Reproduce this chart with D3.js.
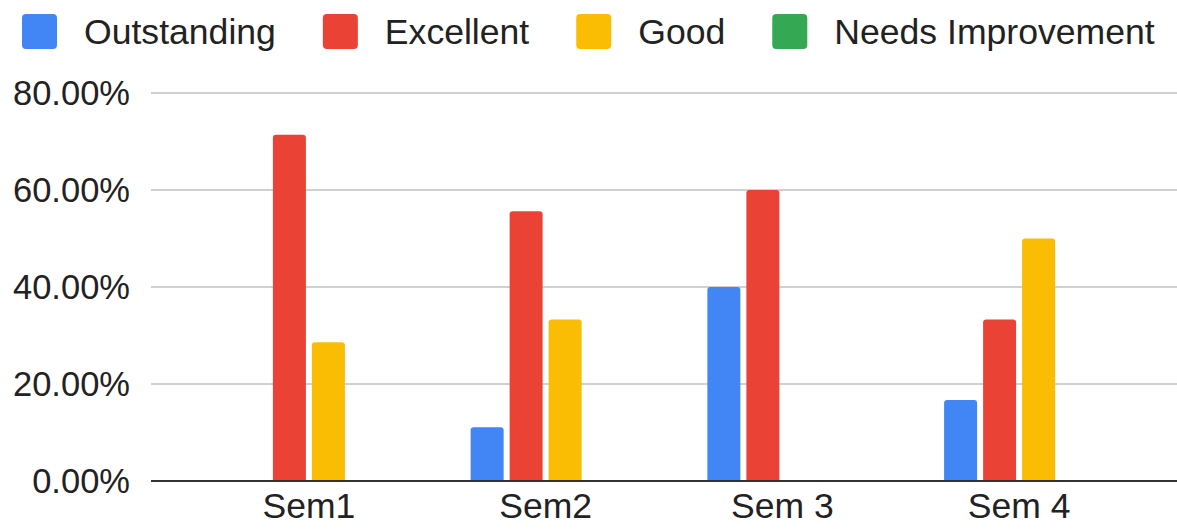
<!DOCTYPE html>
<html>
<head>
<meta charset="utf-8">
<script src="https://cdn.jsdelivr.net/npm/d3@7"></script>
<style>
  html, body { margin: 0; padding: 0; background: #fff; }
  svg { display: block; font-family: "Liberation Sans", Arial, sans-serif; }
</style>
</head>
<body>
<svg id="chart" width="1177" height="531"></svg>
<script>
const categories = ["Sem1", "Sem2", "Sem 3", "Sem 4"];
const seriesNames = ["Outstanding", "Excellent", "Good", "Needs Improvement"];
const seriesColors = ["#4285F4", "#EA4335", "#FBBC04", "#34A853"];
const outstanding = [0, 0.111, 0.40, 0.167];
const excellent = [0.714, 0.556, 0.60, 0.333];
const good = [0.286, 0.333, 0, 0.50];
const needsImprovement = [0, 0, 0, 0];
const yTicks = [0, 0.2, 0.4, 0.6, 0.8];

const seriesValues = [outstanding, excellent, good, needsImprovement];

const W = 1177, H = 531;
const margin = { left: 151, right: 0, top: 93, bottom: 50 };
const svg = d3.select("#chart");

const x = d3.scaleBand().domain(categories)
  .range([margin.left, W - margin.right])
  .paddingInner(0).paddingOuter(0.167);
const xs = d3.scaleBand().domain(seriesNames)
  .range([-75, 75]).paddingInner(0.154).paddingOuter(0);
const y = d3.scaleLinear().domain([0, 0.8]).range([481, 93]);

// gridlines
svg.append("g").selectAll("line").data(yTicks.filter(d => d > 0)).join("line")
  .attr("x1", margin.left).attr("x2", W - margin.right)
  .attr("y1", d => y(d)).attr("y2", d => y(d))
  .attr("stroke", "#d0d0d0").attr("stroke-width", 2);

// y axis labels
const yAxis = d3.axisLeft(y).tickValues(yTicks).tickSize(0).tickPadding(21)
  .tickFormat(d => d3.format(".2%")(d));
const gy = svg.append("g").attr("transform", `translate(${margin.left},0)`).call(yAxis);
gy.select(".domain").remove();
gy.selectAll("text").attr("font-size", 34.5).attr("fill", "#222")
  .attr("font-family", "Liberation Sans, Arial, sans-serif").attr("dy", "0.33em");

// bars
function barPath(x0, w, yTop, yBase, r) {
  r = Math.min(r, w / 2, yBase - yTop);
  return `M${x0},${yBase} L${x0},${yTop + r} Q${x0},${yTop} ${x0 + r},${yTop} L${x0 + w - r},${yTop} Q${x0 + w},${yTop} ${x0 + w},${yTop + r} L${x0 + w},${yBase} Z`;
}
const barData = [];
categories.forEach((c, ci) => {
  seriesNames.forEach((s, si) => {
    barData.push({ cat: c, series: s, value: seriesValues[si][ci], color: seriesColors[si] });
  });
});
svg.append("g").selectAll("path").data(barData.filter(d => d.value > 0)).join("path")
  .attr("d", d => {
    const cx = x(d.cat) + x.bandwidth() / 2;
    return barPath(cx + xs(d.series), xs.bandwidth(), y(d.value), y(0), 3);
  })
  .attr("fill", d => d.color);

// x axis baseline
svg.append("line").attr("x1", margin.left).attr("x2", W - margin.right)
  .attr("y1", y(0)).attr("y2", y(0)).attr("stroke", "#333").attr("stroke-width", 2);

// x labels
const xAxis = d3.axisBottom(x).tickSize(0).tickPadding(12);
const gx = svg.append("g").attr("transform", `translate(0,${y(0)})`).call(xAxis);
gx.select(".domain").remove();
gx.selectAll("text").attr("font-size", 35.5).attr("fill", "#222")
  .attr("font-family", "Liberation Sans, Arial, sans-serif");

// legend
const legend = svg.append("g");
let lx = 22;
seriesNames.forEach((s, i) => {
  const g = legend.append("g");
  g.append("rect").attr("x", lx).attr("y", 14).attr("width", 35).attr("height", 35)
    .attr("rx", 4).attr("fill", seriesColors[i]);
  const t = g.append("text").attr("x", lx + 62).attr("y", 44)
    .attr("font-size", 35.6).attr("fill", "#222").text(s);
  lx = lx + 62 + t.node().getComputedTextLength() + 47;
});
</script>
</body>
</html>
